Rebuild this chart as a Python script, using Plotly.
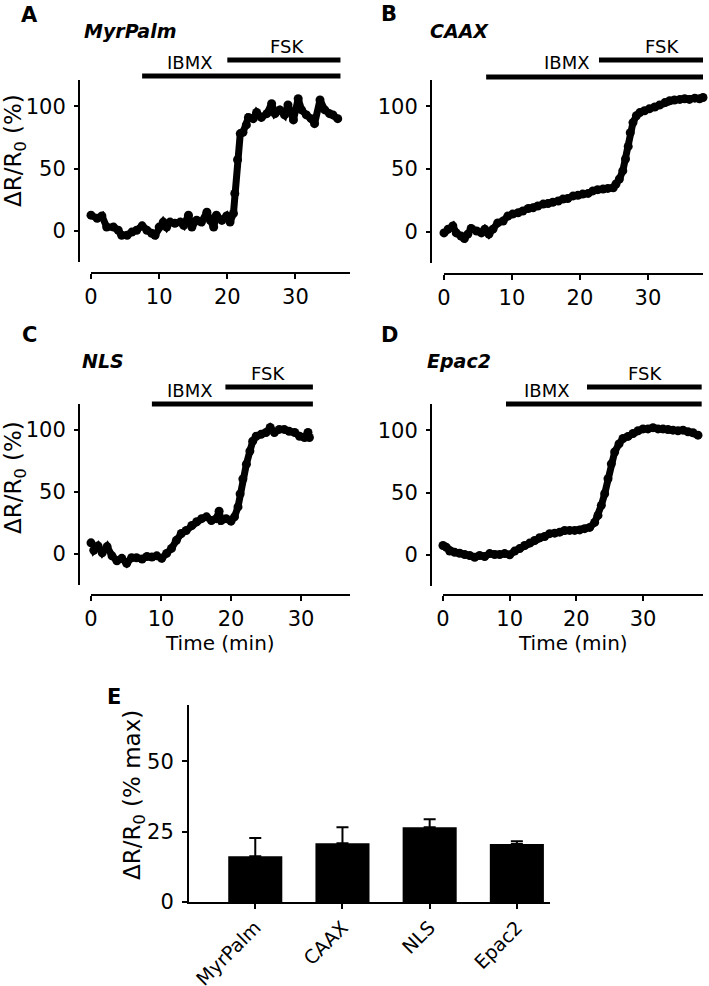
import plotly.graph_objects as go

# ---------------- data ----------------
time_A = [0, 0.9, 1.6, 2.3, 3.3, 4.0, 4.5, 5.3, 6.0, 6.7, 7.5, 8.2, 8.9, 9.4, 10.0, 10.6, 11.1, 11.6, 12.3, 13.1,
          13.6, 14.3, 14.8, 15.5, 16.2, 17.0, 17.5, 18.0, 18.4, 19.2, 19.9, 20.4, 20.9, 21.1, 21.5, 21.9, 22.3, 22.8, 23.1, 23.8,
          24.3, 25.0, 25.8, 26.5, 27.0, 27.7, 28.4, 28.9, 29.7, 30.4, 30.9, 31.6, 32.3, 32.8, 33.6, 34.3, 35.0, 35.5, 36.2]
resp_A = [12.6, 10, 12, 3, 3, 0.5, -3.5, -3.5, -1, 0.5, 4, 0.5, -2, -3.5, 3, 7, 3, 7, 6, 7,
          4.5, 12.6, 3, 8.5, 7, 15, 8.5, 3, 12.6, 8.5, 12, 7, 14, 30, 57, 78, 79, 85, 91, 90,
          95, 91, 94, 102, 94, 97, 93, 101, 89, 106, 97, 93, 90, 86, 105, 97, 94, 93, 90]

time_B = [0, 0.6, 1.3, 1.8, 2.5, 3.0, 3.5, 4.0, 4.8, 5.5, 6.0, 6.6, 7.2, 7.9, 8.7, 9.4, 10.1, 10.9, 11.6, 12.4,
          13.1, 13.8, 14.6, 15.3, 16.0, 16.8, 17.5, 18.2, 19.0, 19.7, 20.4, 21.2, 21.9, 22.6, 23.4, 24.1, 24.9, 25.3, 25.8, 26.3,
          26.7, 27.1, 27.4, 27.8, 28.3, 28.8, 29.5, 30.2, 31.0, 31.7, 32.5, 33.2, 33.9, 34.7, 35.4, 36.1, 36.9, 37.6, 38.1]
resp_B = [-1, 2, 4.5, -1, -3.5, -5.5, -2, 2.5, 0.5, -1, 2, -2, 2, 7, 8.5, 12.5, 14, 15, 16.5, 18.5,
          19, 20.5, 22, 22.5, 23.5, 24.5, 26, 26.5, 28.5, 29, 30, 30.5, 32.5, 33.5, 34, 34.5, 35, 38, 42, 48.5,
          58, 68, 79, 87, 92.5, 95, 96.5, 98, 99.5, 101, 103, 104.5, 105, 105.5, 106, 105.5, 106.5, 106, 107]

time_C = [0, 0.4, 1.0, 1.6, 2.3, 3.0, 3.7, 4.4, 5.1, 5.8, 6.5, 7.3, 8.0, 8.7, 9.4, 10.1, 10.8, 11.5, 12.2, 12.9,
          13.6, 14.4, 15.1, 15.8, 16.5, 17.2, 17.9, 18.3, 18.6, 19.3, 20.0, 20.5, 21.0, 21.3, 21.7, 22.2, 22.7, 23.1, 23.6, 24.3,
          25.0, 25.6, 26.2, 26.9, 27.6, 28.3, 29.1, 29.8, 30.5, 31.0, 31.2]
resp_C = [9, 3, 6.5, 1, 6, -1.5, -5.5, -3.5, -7.5, -3, -3, -4, -2, -2.5, -1.5, -3.5, 0.5, 4.5, 11, 16.5,
          19, 23, 26, 28.5, 30, 27, 28.5, 34.5, 27, 28.5, 26.5, 30, 38, 48.5, 60.5, 72.5, 83, 91, 95, 96.5,
          98, 102, 98, 100.5, 100.5, 99, 98, 95, 94, 98, 94]

time_D = [0, 0.5, 1.0, 1.75, 2.5, 3.25, 4.0, 4.75, 5.5, 6.25, 7.0, 7.75, 8.5, 9.25, 10.0, 10.75, 11.5, 12.25, 13.0, 13.75,
          14.5, 15.25, 16.0, 16.75, 17.5, 18.25, 19.0, 19.75, 20.5, 21.25, 22.0, 22.75, 23.25, 23.75, 24.25, 24.75, 25.25, 25.75, 26.4, 27.0,
          27.75, 28.5, 29.25, 30.0, 30.75, 31.5, 32.25, 33.0, 33.75, 34.5, 35.25, 36.0, 36.75, 37.5, 38.25]
resp_D = [7.5, 6, 3, 2, 1.3, 0.3, -0.5, -2, -0.5, -1.3, 1, 0.3, 0.3, 1, 0, 3, 5, 7.5, 9.4, 11.5,
          13.7, 14.7, 17, 17.4, 18.2, 19.6, 19.6, 19.6, 20, 21, 22, 26, 31.6, 39.7, 49, 61, 73, 82.5, 89, 93.3,
          95, 97.3, 99.5, 101, 101, 102, 101, 101, 100.5, 100, 99.5, 100, 98.7, 98, 96]

panel_letters = ["A", "B", "C", "D"]
panel_names = ["MyrPalm", "CAAX", "NLS", "Epac2"]
ibmx_start = [7.5, 6.2, 8.7, 9.45]
fsk_start = [20.0, 22.8, 19.2, 21.6]
drug_end = [36.6, 38.5, 31.7, 38.8]
ibmx_label_t = [14.5, 18.1, 14.1, 15.6]
fsk_label_t = [28.8, 32.1, 25.3, 30.3]
x_max = [38, 38.1, 37, 39]
x_ticks = [0, 10, 20, 30]
y_ticks = [0, 50, 100]
y_range = [-25, 121]

bar_cats = ["MyrPalm", "CAAX", "NLS", "Epac2"]
bar_vals = [16.3, 20.9, 26.6, 20.6]
bar_errs = [6.4, 5.7, 2.8, 1.0]
bar_ticks = [0, 25, 50]

# ---------------- layout helpers ----------------
W, H = 709, 986
def px(x):
    return x / W
def py(y):
    return 1 - y / H

FONT = "DejaVu Sans, Liberation Sans, Arial, sans-serif"
times = [time_A, time_B, time_C, time_D]
resps = [resp_A, resp_B, resp_C, resp_D]

# pixel geometry: x domain, y-axis span (top, bottom), y-axis x position, x-axis y position
geo = [
    dict(xd=(91, 350), yd=(80, 262), yax=79, xax=272, let=(30, 15), tit=(82, 31), ib=76, fs=60),
    dict(xd=(444, 703), yd=(80, 263), yax=431, xax=273, let=(389, 14), tit=(428, 31), ib=77, fs=60),
    dict(xd=(91, 350), yd=(404, 585), yax=79, xax=594, let=(30, 335), tit=(80, 361), ib=404, fs=387),
    dict(xd=(443, 703), yd=(404, 586), yax=431, xax=594, let=(389, 335), tit=(425, 361), ib=404, fs=387),
]

fig = go.Figure()
layout = dict(width=W, height=H, margin=dict(l=0, r=0, t=0, b=0),
              paper_bgcolor="white", plot_bgcolor="rgba(0,0,0,0)", showlegend=False,
              font=dict(family=FONT, color="black", size=20))
shapes = []
annotations = []

axis_common = dict(showline=True, linecolor="black", linewidth=2, ticks="outside",
                   tickwidth=2, tickcolor="black", showgrid=False, zeroline=False,
                   automargin=False, fixedrange=True)

for i in range(4):
    g = geo[i]
    n = i + 1
    xa = "xaxis" if n == 1 else f"xaxis{n}"
    ya = "yaxis" if n == 1 else f"yaxis{n}"
    xr = "x" if n == 1 else f"x{n}"
    yr = "y" if n == 1 else f"y{n}"
    yd_id = 5 + n          # display y axis (detached, carries ticks/line)
    top, bot = g["yd"]
    ppu = (bot - top) / (y_range[1] - y_range[0])          # pixels per unit
    data_bottom = y_range[0] - (g["xax"] - bot) / ppu        # extend data axis down to the x-axis line

    fig.add_trace(go.Scatter(x=times[i], y=resps[i], mode="lines+markers",
                             line=dict(color="black", width=7),
                             marker=dict(color="black", size=9),
                             xaxis=xr, yaxis=yr, cliponaxis=False, hoverinfo="x+y"))
    fig.add_trace(go.Scatter(x=[], y=[], mode="markers", xaxis=xr, yaxis=f"y{yd_id}",
                             hoverinfo="skip"))
    layout[xa] = dict(domain=[px(g["xd"][0]), px(g["xd"][1])], range=[0, x_max[i]],
                      anchor=yr, tickvals=x_ticks, ticklen=5,
                      tickfont=dict(size=21, family=FONT, color="black"), ticklabelstandoff=0,
                      **axis_common)
    layout[ya] = dict(domain=[py(g["xax"]), py(top)], range=[data_bottom, y_range[1]],
                      anchor=xr, visible=False, showgrid=False, zeroline=False, fixedrange=True)
    layout[f"yaxis{yd_id}"] = dict(domain=[py(bot), py(top)], range=y_range,
                                   anchor="free", position=px(g["yax"]), tickvals=y_ticks, ticklen=4,
                                   tickfont=dict(size=21, family=FONT, color="black"), ticklabelstandoff=4,
                                   **axis_common)
    shapes.append(dict(type="line", xref=xr, yref="paper", x0=ibmx_start[i], x1=drug_end[i],
                       y0=py(g["ib"]), y1=py(g["ib"]), line=dict(color="black", width=5)))
    shapes.append(dict(type="line", xref=xr, yref="paper", x0=fsk_start[i], x1=drug_end[i],
                       y0=py(g["fs"]), y1=py(g["fs"]), line=dict(color="black", width=5)))
    annotations.append(dict(text="IBMX", xref=xr, yref="paper", x=ibmx_label_t[i], y=py(g["ib"] - 14),
                            showarrow=False, xanchor="center", yanchor="middle",
                            font=dict(size=18, family=FONT, color="black")))
    annotations.append(dict(text="FSK", xref=xr, yref="paper", x=fsk_label_t[i], y=py(g["fs"] - 14),
                            showarrow=False, xanchor="center", yanchor="middle",
                            font=dict(size=18, family=FONT, color="black")))
    annotations.append(dict(text="<b>%s</b>" % panel_letters[i], xref="paper", yref="paper",
                            x=px(g["let"][0]), y=py(g["let"][1]), showarrow=False,
                            xanchor="center", yanchor="middle",
                            font=dict(size=21, family=FONT, color="black")))
    annotations.append(dict(text="<b><i>%s</i></b>" % panel_names[i], xref="paper", yref="paper",
                            x=px(g["tit"][0]), y=py(g["tit"][1]), showarrow=False,
                            xanchor="left", yanchor="middle",
                            font=dict(size=19, family=FONT, color="black")))

for (x, y) in [(15, 151), (15, 478)]:
    annotations.append(dict(text="ΔR/R<sub>0</sub> (%)", xref="paper", yref="paper",
                            x=px(x), y=py(y), textangle=-90, showarrow=False,
                            xanchor="center", yanchor="middle",
                            font=dict(size=23, family=FONT, color="black")))
for (x, y) in [(220, 643), (573, 643)]:
    annotations.append(dict(text="Time (min)", xref="paper", yref="paper",
                            x=px(x), y=py(y), showarrow=False,
                            xanchor="center", yanchor="middle",
                            font=dict(size=20, family=FONT, color="black")))

# ---------------- panel E: bar chart ----------------
fig.add_trace(go.Bar(x=bar_cats, y=bar_vals, width=0.62, marker=dict(color="black", line=dict(width=0)),
                     error_y=dict(type="data", array=bar_errs, arrayminus=[0] * len(bar_errs),
                                  symmetric=False, color="black", thickness=2, width=6),
                     xaxis="x5", yaxis="y5"))
layout["xaxis5"] = dict(domain=[px(189), px(550)], range=[-0.76, 3.38], anchor="y5", ticklen=5,
                        tickangle=-45, tickfont=dict(size=19, family=FONT, color="black"),
                        **axis_common)
layout["yaxis5"] = dict(domain=[py(902), py(705)], range=[0, 70], anchor="x5", tickvals=bar_ticks,
                        ticklen=5, tickfont=dict(size=21, family=FONT, color="black"), ticklabelstandoff=4,
                        **axis_common)
annotations.append(dict(text="<b>E</b>", xref="paper", yref="paper", x=px(114), y=py(697),
                        showarrow=False, xanchor="center", yanchor="middle",
                        font=dict(size=21, family=FONT, color="black")))
annotations.append(dict(text="ΔR/R<sub>0</sub> (% max)", xref="paper", yref="paper",
                        x=px(134), y=py(795), textangle=-90, showarrow=False,
                        xanchor="center", yanchor="middle",
                        font=dict(size=23, family=FONT, color="black")))

layout["shapes"] = shapes
layout["annotations"] = annotations
fig.update_layout(**layout)
fig.write_html("out.html", config={"displayModeBar": False},
               post_script="document.body.style.margin='0';document.body.style.overflow='hidden';")
